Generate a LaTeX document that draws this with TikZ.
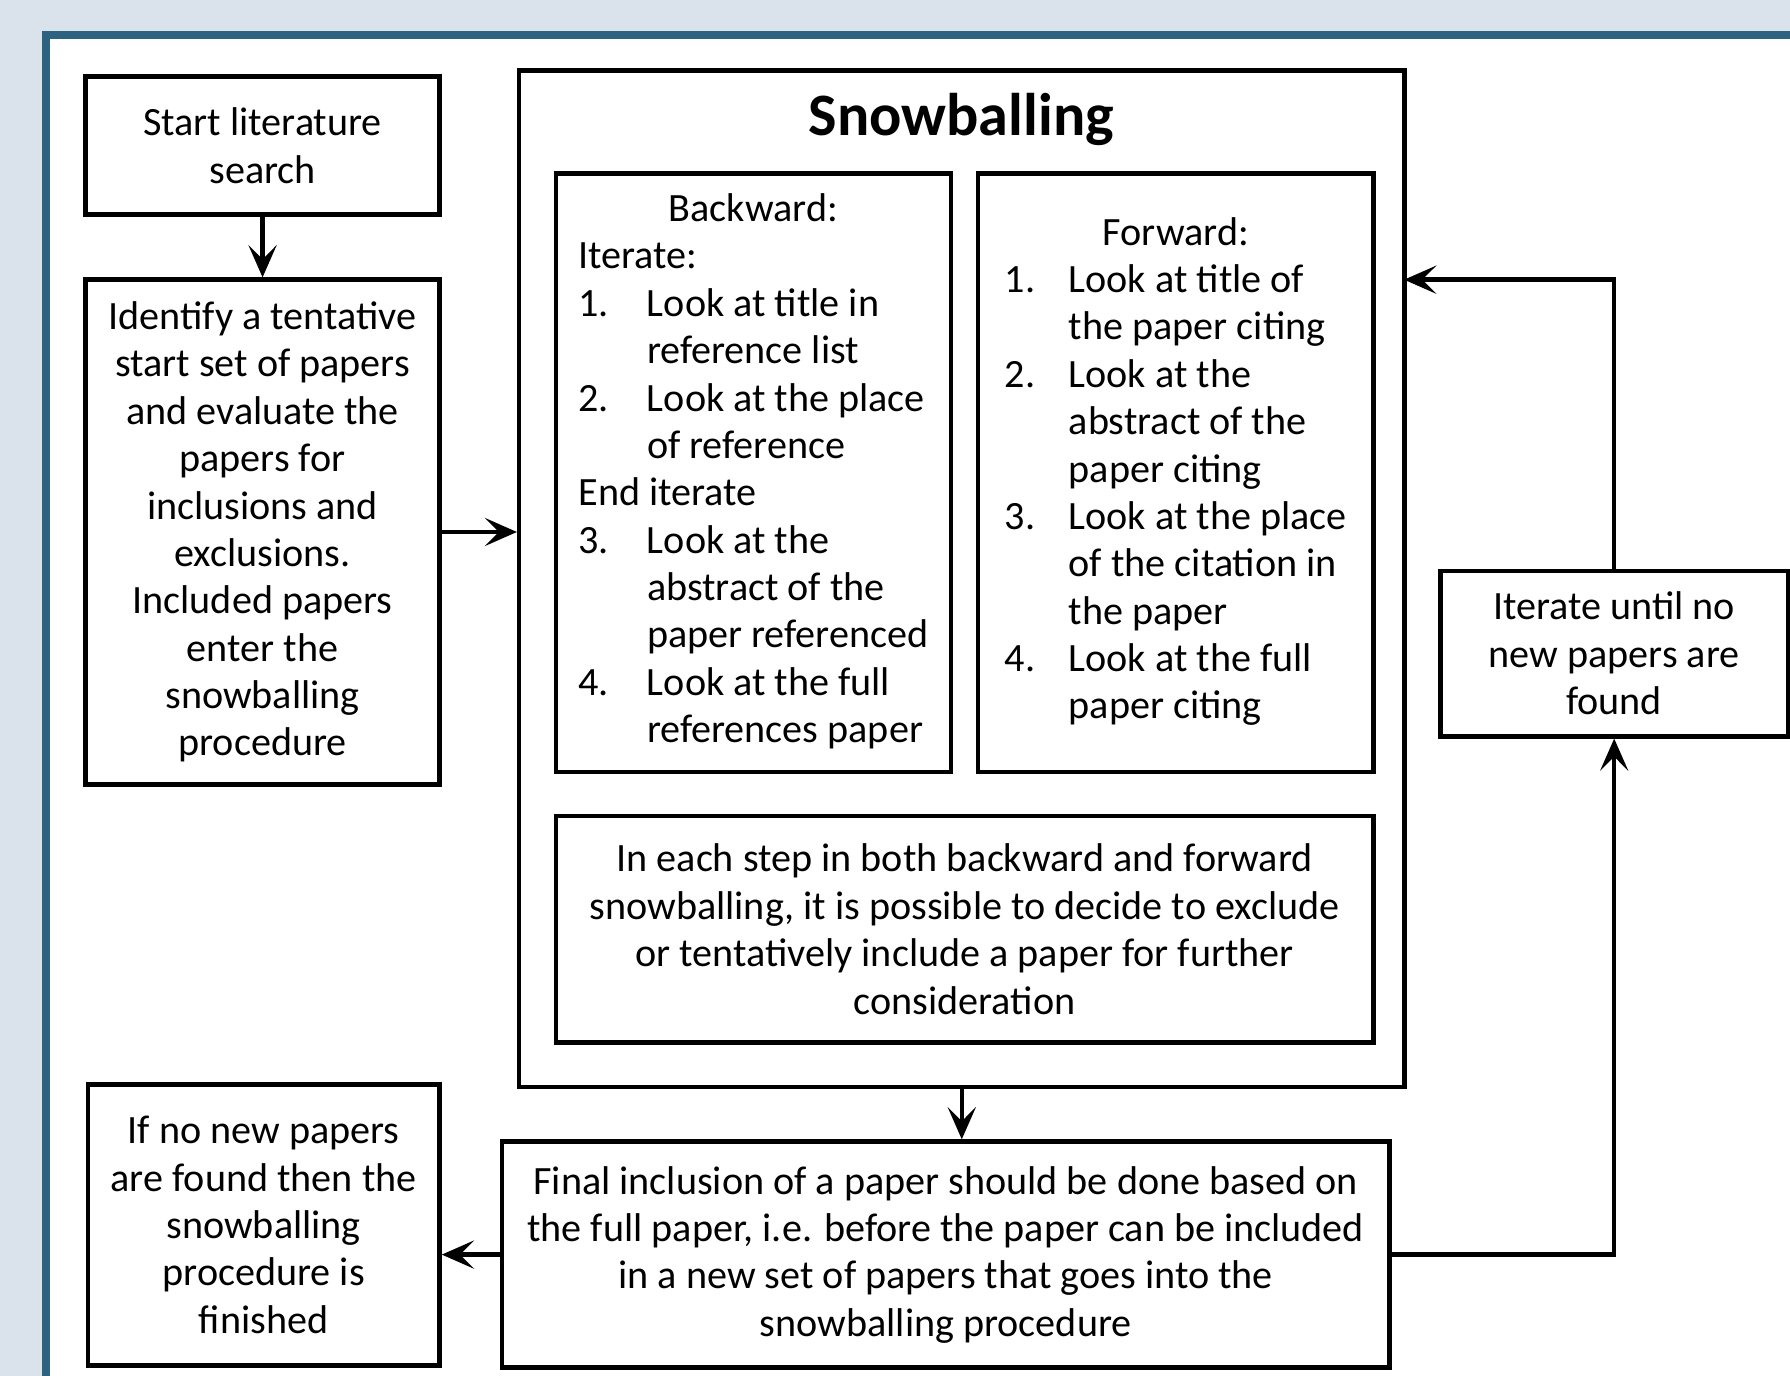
\documentclass[tikz,border=0pt]{standalone}
\usepackage{fontspec}
\setmainfont{Carlito}
\usepackage{array}
\usetikzlibrary{arrows.meta}

\definecolor{pagebg}{RGB}{218,227,236}
\definecolor{framec}{RGB}{44,99,129}

\begin{document}
\begin{tikzpicture}[x=0.01cm, y=-0.01cm,
	font=\fontsize{10}{11.8}\selectfont,
	box/.style={shape=rectangle, draw=black, line width=1.1pt, align=center, inner sep=0pt},
	arr/.style={-{Stealth[length=8pt,width=7pt,inset=3.5pt]}, line width=1.1pt}]
	
	\useasboundingbox (0,0) rectangle (1568,1205);
	\fill[pagebg] (0,0) rectangle (1568,1205);
	\fill[framec] (37,27) rectangle (1600,1240);
	\fill[white] (44,34) rectangle (1600,1240);
	
	\node[box, minimum width=3.1cm, minimum height=1.21cm] (start) at (230,127.5) {Start literature\\search};
	\node[box, minimum width=3.1cm, minimum height=4.42cm] (ident) at (230,466) {Identify a tentative\\start set of papers\\and evaluate the\\papers for\\inclusions and\\exclusions.\\Included papers\\enter the\\snowballing\\procedure};
	
	\node[box, minimum width=7.75cm, minimum height=8.9cm] (snow) at (842.5,507) {};
	\node (title) at (842,105) {\fontsize{15}{18}\selectfont\bfseries Snowballing};
	
	\node[box, minimum width=3.46cm, minimum height=5.24cm] (back) at (660,414) {%
		\begin{tabular}{@{}p{0.6cm}@{}l@{}}
			\multicolumn{2}{c}{Backward:}\\
			\multicolumn{2}{@{}l@{}}{Iterate:}\\
			1. & Look at title in\\
			   & reference list\\
			2. & Look at the place\\
			   & of reference\\
			\multicolumn{2}{@{}l@{}}{End iterate}\\
			3. & Look at the\\
			   & abstract of the\\
			   & paper referenced\\
			4. & Look at the full\\
			   & references paper
		\end{tabular}};
	\node[box, minimum width=3.46cm, minimum height=5.24cm] (fwd) at (1030,414) {%
		\begin{tabular}{@{}p{0.56cm}@{}l@{}}
			\multicolumn{2}{c}{Forward:}\\
			1. & Look at title of\\
			   & the paper citing\\
			2. & Look at the\\
			   & abstract of the\\
			   & paper citing\\
			3. & Look at the place\\
			   & of the citation in\\
			   & the paper\\
			4. & Look at the full\\
			   & paper citing
		\end{tabular}};
	\node[box, minimum width=7.16cm, minimum height=1.98cm] (note) at (845,814) {In each step in both backward and forward\\snowballing, it is possible to decide to exclude\\or tentatively include a paper for further\\consideration};
	
	\node[box, minimum width=7.77cm, minimum height=1.98cm] (final) at (828.5,1099) {Final inclusion of a paper should be done based on\\the full paper, i.e. before the paper can be included\\in a new set of papers that goes into the\\snowballing procedure};
	\node[box, minimum width=3.08cm, minimum height=2.46cm] (done) at (231,1073) {If no new papers\\are found then the\\snowballing\\procedure is\\finished};
	\node[box, minimum width=3.04cm, minimum height=1.45cm] (iter) at (1414,572.5) {Iterate until no\\new papers are\\found};
	\coordinate (ret) at (1230,245);
	
	\draw[arr] (start) -- (ident);
	\draw[arr] (ident.east) -- (ident.east -| snow.west);
	\draw[arr] (snow.south) -- (snow.south |- final.north);
	\draw[arr] (final.west) -- (final.west -| done.east);
	\draw[arr] (final.east) -| (iter.south);
	\draw[arr] (iter.north) |- (ret);
	
\end{tikzpicture}
\end{document}
